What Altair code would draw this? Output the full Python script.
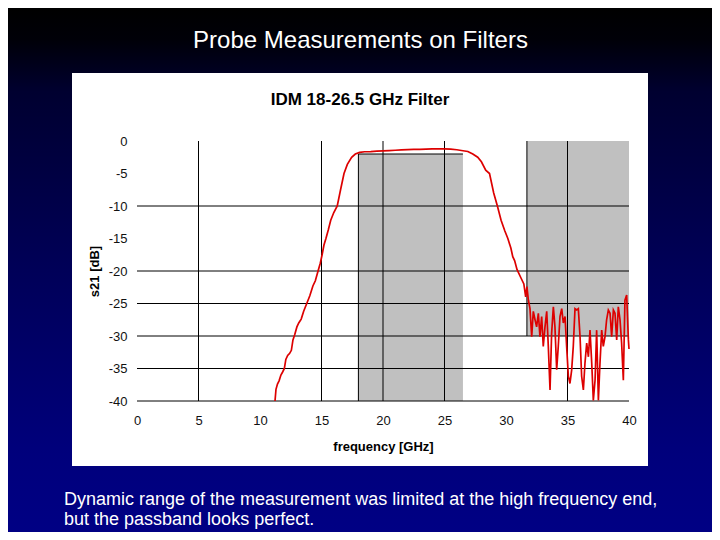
import altair as alt
import pandas as pd

# ---------------- data ----------------
freq = [11.22, 11.30, 11.42, 11.55, 11.70, 11.85, 11.98, 12.10, 12.25, 12.40, 12.55, 12.68, 12.82,
        13.00, 13.15, 13.35, 13.55, 13.80, 14.05, 14.30, 14.50, 14.72, 14.90, 15.05, 15.20, 15.36,
        15.55, 15.75, 16.00, 16.28, 16.55, 16.83, 17.10, 17.45, 17.75, 18.10, 18.50, 19.00, 19.50,
        20.00, 20.50, 21.00, 21.50, 22.00, 22.50, 23.00, 23.50, 24.00, 24.50, 25.00, 25.50, 26.00,
        26.50, 26.90, 27.30, 27.70, 28.00, 28.35, 28.66, 29.00, 29.30, 29.60, 29.90, 30.15, 30.40,
        30.55, 30.70, 30.90, 31.20, 31.45, 31.60, 31.70,
        31.82, 31.95, 32.09, 32.22, 32.36, 32.49, 32.63, 32.76, 32.90, 33.03, 33.17, 33.31, 33.44,
        33.58, 33.71, 33.85, 33.98, 34.12, 34.25, 34.39, 34.53, 34.66, 34.80, 34.93, 35.07, 35.20,
        35.34, 35.47, 35.61, 35.75, 35.88, 36.02, 36.15, 36.29, 36.42, 36.56, 36.70, 36.83, 36.97,
        37.10, 37.24, 37.37, 37.51, 37.64, 37.78, 37.91, 38.05, 38.18, 38.32, 38.46, 38.59, 38.73,
        38.86, 39.00, 39.13, 39.27, 39.40, 39.54, 39.67, 39.81, 39.95, 40.00]
s21 = [-40.0, -38.2, -37.4, -36.9, -36.0, -35.5, -35.0, -33.6, -33.0, -32.7, -32.2, -30.6, -29.8,
       -28.6, -28.0, -27.4, -26.2, -25.0, -23.8, -22.3, -21.5, -20.0, -18.8, -17.5, -16.0, -15.0,
       -13.7, -12.2, -11.0, -10.0, -7.5, -5.0, -3.6, -2.5, -2.0, -1.75, -1.65, -1.62, -1.55,
       -1.52, -1.48, -1.42, -1.38, -1.33, -1.30, -1.28, -1.25, -1.22, -1.22, -1.20, -1.25, -1.35,
       -1.50, -1.62, -2.0, -2.5, -3.2, -4.5, -5.0, -8.0, -10.0, -12.2, -13.8, -15.0, -16.5,
       -17.8, -18.4, -19.8, -21.0, -22.0, -24.0, -22.4,
       -24.5, -25.8, -30.1, -26.2, -27.5, -28.6, -26.5, -30.1, -27.0, -31.6, -28.6, -26.2, -31.6,
       -38.3, -29.6, -25.5, -28.6, -35.2, -31.6, -27.0, -25.8, -28.0, -27.0, -31.6, -36.2, -37.3,
       -35.2, -31.6, -25.8, -26.0, -25.8, -30.1, -36.2, -38.3, -34.2, -31.1, -33.2, -29.1, -34.2,
       -39.9, -36.8, -29.1, -39.9, -34.2, -29.1, -31.6, -30.1, -27.5, -26.0, -26.5, -30.1, -26.0,
       -26.5, -30.6, -25.5, -27.5, -31.1, -36.8, -24.5, -23.7, -30.6, -32.0]

x_ticks = [0, 5, 10, 15, 20, 25, 30, 35, 40]
y_ticks = [0, -5, -10, -15, -20, -25, -30, -35, -40]
grid_x = [5, 15, 20, 25, 35]
grid_y = [-10, -20, -25, -30, -35, -40]

mask_x0 = [18, 31.7]
mask_x1 = [26.5, 40]
mask_y0 = [-2, 0]
mask_y1 = [-40, -30]

spec_x0 = [18, 18, 31.7]
spec_x1 = [18, 26.5, 31.7]
spec_y0 = [-40, -2, 0]
spec_y1 = [-2, -2, -30]

slide_title = "Probe Measurements on Filters"
chart_title = "IDM 18-26.5 GHz Filter"
x_title = "frequency [GHz]"
y_title = "s21 [dB]"
caption = ["Dynamic range of the measurement was limited at the high frequency end,",
           "but the passband looks perfect."]

# ---------------- chart ----------------
FONT = "Liberation Sans"
W, H = 492, 260
PAD = {"left": 129, "top": 133, "right": 83, "bottom": 131}

xs = alt.Scale(domain=[0, 40], nice=False, zero=False)
ys = alt.Scale(domain=[-40, 0], nice=False, zero=False)

ax_x = alt.Axis(values=x_ticks, labelExpr="'' + datum.value", grid=False, domain=False, ticks=False,
                labelPadding=13, labelFont=FONT, labelFontSize=13, labelColor="#111111",
                labelFlush=False, labelOverlap=False,
                title=x_title, titleFont=FONT, titleFontSize=13, titleFontWeight="bold",
                titleColor="black", titleY=45, titleBaseline="middle", zindex=1)
ax_y = alt.Axis(values=y_ticks, labelExpr="'' + datum.value", grid=False, domain=False, ticks=False,
                labelPadding=10, labelFont=FONT, labelFontSize=13, labelColor="#111111",
                labelFlush=False, labelOverlap=False,
                title=y_title, titleFont=FONT, titleFontSize=13, titleFontWeight="bold",
                titleColor="black", titleX=-43, titleY=130, titleAngle=270,
                titleAlign="center", titleBaseline="middle", zindex=1)

one = pd.DataFrame({"k": [0]})
line_df = pd.DataFrame({"freq": freq, "s21": s21})
mask_df = pd.DataFrame({"x0": mask_x0, "x1": mask_x1, "y0": mask_y0, "y1": mask_y1})
spec_df = pd.DataFrame({"x0": spec_x0, "x1": spec_x1, "y0": spec_y0, "y1": spec_y1})
gx_df = pd.DataFrame({"gx": grid_x})
gy_df = pd.DataFrame({"gy": grid_y})

bg = alt.Chart(one).mark_rect(
    color=alt.Gradient(
        gradient="linear",
        stops=[alt.GradientStop(color="#000000", offset=0),
               alt.GradientStop(color="#000008", offset=0.06),
               alt.GradientStop(color="#000030", offset=0.16),
               alt.GradientStop(color="#000058", offset=0.5),
               alt.GradientStop(color="#00007C", offset=0.85),
               alt.GradientStop(color="#000084", offset=1)],
        x1=0, x2=0, y1=0, y2=1)
).encode(x=alt.value(-PAD["left"]), x2=alt.value(W + PAD["right"]),
         y=alt.value(-PAD["top"]), y2=alt.value(H + PAD["bottom"]))

panel = alt.Chart(one).mark_rect(color="white").encode(
    x=alt.value(-65), x2=alt.value(511), y=alt.value(-68), y2=alt.value(325))

masks = alt.Chart(mask_df).mark_rect(color="#C0C0C0").encode(
    x=alt.X("x0:Q", scale=xs, axis=ax_x), x2="x1:Q",
    y=alt.Y("y0:Q", scale=ys, axis=ax_y), y2="y1:Q")

gridx = alt.Chart(gx_df).mark_rule(color="black", strokeWidth=1).encode(
    x=alt.X("gx:Q", scale=xs, axis=ax_x))
gridy = alt.Chart(gy_df).mark_rule(color="black", strokeWidth=1).encode(
    y=alt.Y("gy:Q", scale=ys, axis=ax_y))

spec = alt.Chart(spec_df).mark_rule(color="black", strokeWidth=1).encode(
    x=alt.X("x0:Q", scale=xs, axis=ax_x), x2="x1:Q",
    y=alt.Y("y0:Q", scale=ys, axis=ax_y), y2="y1:Q")

line = alt.Chart(line_df).mark_line(color="#DD0000", strokeWidth=1.7).encode(
    x=alt.X("freq:Q", scale=xs, axis=ax_x),
    y=alt.Y("s21:Q", scale=ys, axis=ax_y))

t_slide = alt.Chart(one).mark_text(
    text=slide_title, font=FONT, fontSize=24, color="white", align="center",
    baseline="alphabetic").encode(x=alt.value(223.5), y=alt.value(-93))

t_chart = alt.Chart(one).mark_text(
    text=chart_title, font=FONT, fontSize=17, fontWeight="bold", color="black",
    align="center", baseline="alphabetic").encode(x=alt.value(223), y=alt.value(-36))

t_caption = alt.Chart(one).mark_text(
    text=caption, font=FONT, fontSize=18, color="white", align="left",
    baseline="alphabetic", lineHeight=20).encode(x=alt.value(-73), y=alt.value(364))

chart = alt.layer(bg, panel, masks, gridx, gridy, spec, line, t_slide, t_chart, t_caption).properties(
    width=W, height=H,
    autosize=alt.AutoSizeParams(type="none"),
    padding=PAD,
).configure_view(strokeWidth=0)

chart.save("out.html", embed_options={"renderer": "svg", "actions": False})
